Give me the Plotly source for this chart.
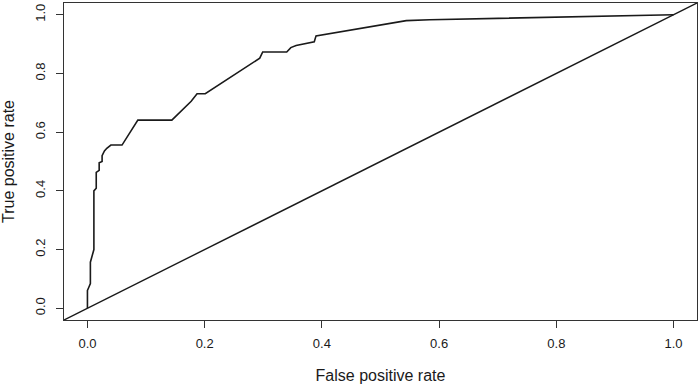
import plotly.graph_objects as go

# ROC curve
fpr = [0, 0, 0.002, 0.005, 0.005, 0.009, 0.011, 0.011, 0.015, 0.015, 0.018, 0.02, 0.02,
       0.025, 0.025, 0.029, 0.033, 0.04, 0.059, 0.086, 0.144, 0.177, 0.187, 0.201, 0.294,
       0.299, 0.340, 0.347, 0.356, 0.382, 0.387, 0.390, 0.544, 0.584, 0.658, 0.888, 0.965, 1.0]
tpr = [0, 0.061, 0.07, 0.084, 0.157, 0.192, 0.2, 0.4, 0.409, 0.463, 0.466, 0.47, 0.496,
       0.50, 0.52, 0.536, 0.545, 0.556, 0.556, 0.641, 0.641, 0.705, 0.731, 0.731, 0.852,
       0.873, 0.873, 0.888, 0.895, 0.905, 0.908, 0.928, 0.98, 0.983, 0.986, 0.996, 0.999, 1.0]

tick_vals = [0, 0.2, 0.4, 0.6, 0.8, 1.0]
tick_text = ["0.0", "0.2", "0.4", "0.6", "0.8", "1.0"]
axis_range = [-0.04, 1.04]

fig = go.Figure()
fig.add_trace(go.Scatter(x=fpr, y=tpr, mode="lines",
                         line=dict(color="#1a1a1a", width=1.6), showlegend=False))
fig.add_trace(go.Scatter(x=axis_range, y=axis_range, mode="lines",
                         line=dict(color="#1a1a1a", width=1.4), showlegend=False))

font = dict(family="Liberation Sans, Arial, sans-serif", size=13, color="#1a1a1a")
fig.update_layout(
    width=700, height=389,
    margin=dict(l=64, r=3, t=3, b=69),
    paper_bgcolor="white", plot_bgcolor="white",
    font=font,
)
common = dict(range=axis_range, showgrid=False, zeroline=False, showline=True, mirror=True,
              linecolor="#333333", linewidth=1.3, ticks="outside", ticklen=7, tickwidth=1,
              tickcolor="#333333", tickvals=tick_vals, ticktext=tick_text, automargin=False)
fig.update_xaxes(**common, ticklabelstandoff=4,
                 title=dict(text="False positive rate", standoff=20))
fig.update_yaxes(**common, tickangle=-90, ticklabelstandoff=6,
                 title=dict(text="True positive rate", standoff=14))

fig.write_html("out.html", config={"displayModeBar": False},
               post_script="document.body.style.margin='0';document.body.style.overflow='hidden';")
